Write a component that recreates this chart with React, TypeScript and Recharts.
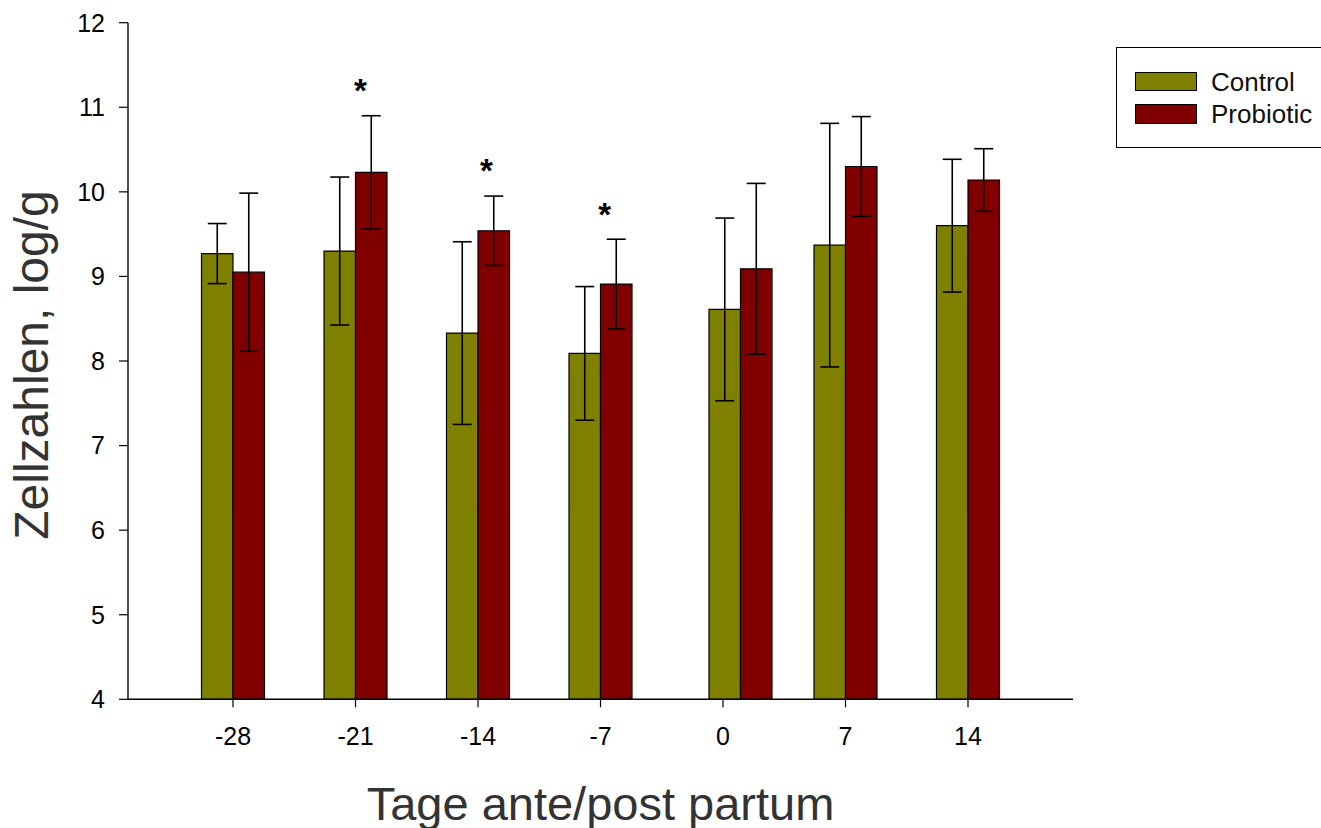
import React from 'react';
import { ComposedChart, Bar, XAxis, YAxis, ErrorBar, ReferenceDot, Legend, Label } from 'recharts';

const FONT = '"Liberation Sans", Arial, Helvetica, sans-serif';

// Day labels shown on the axis and the x position each bar group is drawn at
const dayTicks = [-28, -21, -14, -7, 0, 7, 14];
const groupPositions = [-28, -21, -14, -7, 1, 7, 14];

const controlMeans = [9.27, 9.3, 8.33, 8.09, 8.61, 9.37, 9.6];
const controlErrors = [0.355, 0.875, 1.08, 0.79, 1.08, 1.44, 0.785];
const probioticMeans = [9.05, 10.23, 9.54, 8.91, 9.09, 10.3, 10.14];
const probioticErrors = [0.935, 0.67, 0.41, 0.53, 1.01, 0.59, 0.37];

// significance markers (*)
const starX = [-20.72, -13.52, -6.76];
const starY = [11.25, 10.3, 9.785];

const yTicks = [4, 5, 6, 7, 8, 9, 10, 11, 12];

const data = groupPositions.map((x, i) => ({
  x,
  control: controlMeans[i],
  controlErr: controlErrors[i],
  probiotic: probioticMeans[i],
  probioticErr: probioticErrors[i],
}));

const stars = starX.map((x, i) => ({ x, y: starY[i] }));

const StarShape = (props: any) => (
  <text
    x={props.cx}
    y={props.cy + 16}
    textAnchor="middle"
    fontSize={33}
    fontWeight="bold"
    fontFamily={FONT}
    fill="#000"
  >
    *
  </text>
);

const LegendBox = (props: any) => {
  const payload = (props.payload || []).filter((p: any) => p.type !== 'none');
  return (
    <div
      style={{
        width: 212,
        height: 101,
        border: '1.3px solid #000',
        boxSizing: 'border-box',
        background: '#fff',
        position: 'relative',
        fontFamily: FONT,
      }}
    >
      {payload.map((p: any, i: number) => (
        <div
          key={p.value}
          style={{ position: 'absolute', left: 18, top: 23.5 + i * 32.3, height: 20, display: 'flex', alignItems: 'center' }}
        >
          <div style={{ width: 62, height: 19.5, background: p.color, border: '1.2px solid #000', boxSizing: 'border-box' }} />
          <span style={{ marginLeft: 14, fontSize: 26, color: '#111', lineHeight: '20px' }}>{p.value}</span>
        </div>
      ))}
    </div>
  );
};

export default function App() {
  return (
    <div style={{ position: 'absolute', left: 0, top: 0, width: 1321, height: 828, overflow: 'hidden', background: '#fff' }}>
      <ComposedChart
        width={1321}
        height={828}
        data={data}
        margin={{ top: 22.7, right: 248, left: 0, bottom: 0 }}
        barGap={0}
      >
        <XAxis
          dataKey="x"
          type="number"
          domain={[-34, 20]}
          ticks={dayTicks}
          interval={0}
          height={128.7}
          tickSize={8}
          tickMargin={20}
          axisLine={{ stroke: '#000', strokeWidth: 1.4 }}
          tickLine={{ stroke: '#000', strokeWidth: 1.2 }}
          tick={{ fill: '#000', fontSize: 25, fontFamily: FONT }}
          allowDataOverflow
        >
          <Label
            content={(p: any) => {
              const vb = p.viewBox;
              return (
                <text
                  x={vb.x + vb.width / 2}
                  y={vb.y + 120.5}
                  textAnchor="middle"
                  fontSize={47}
                  fontFamily={FONT}
                  fill="#333"
                >
                  Tage ante/post partum
                </text>
              );
            }}
          />
        </XAxis>
        <YAxis
          type="number"
          domain={[4, 12]}
          ticks={yTicks}
          interval={0}
          width={128}
          tickSize={9}
          tickMargin={14}
          axisLine={{ stroke: '#000', strokeWidth: 1.4 }}
          tickLine={{ stroke: '#000', strokeWidth: 1.2 }}
          tick={{ fill: '#000', fontSize: 25, fontFamily: FONT }}
          allowDataOverflow
        >
          <Label
            content={(p: any) => {
              const vb = p.viewBox;
              const cy = vb.y + vb.height / 2 + 4;
              return (
                <text
                  x={48}
                  y={cy}
                  transform={`rotate(-90, 48, ${cy})`}
                  textAnchor="middle"
                  fontSize={48}
                  fontFamily={FONT}
                  fill="#333"
                >
                  Zellzahlen, log/g
                </text>
              );
            }}
          />
        </YAxis>
        <Legend
          layout="vertical"
          align="center"
          verticalAlign="middle"
          content={<LegendBox />}
          wrapperStyle={{ position: 'absolute', left: 1116, top: 47, width: 212, height: 101 }}
        />
        <Bar dataKey="control" name="Control" fill="#808000" stroke="#000" strokeWidth={1.2} barSize={31.5} isAnimationActive={false}>
          <ErrorBar dataKey="controlErr" direction="y" width={9.5} stroke="#000" strokeWidth={1.6} />
        </Bar>
        <Bar dataKey="probiotic" name="Probiotic" fill="#800000" stroke="#000" strokeWidth={1.2} barSize={31.5} isAnimationActive={false}>
          <ErrorBar dataKey="probioticErr" direction="y" width={9.5} stroke="#000" strokeWidth={1.6} />
        </Bar>
        {stars.map((s, i) => (
          <ReferenceDot key={i} x={s.x} y={s.y} shape={<StarShape />} ifOverflow="visible" />
        ))}
      </ComposedChart>
    </div>
  );
}
